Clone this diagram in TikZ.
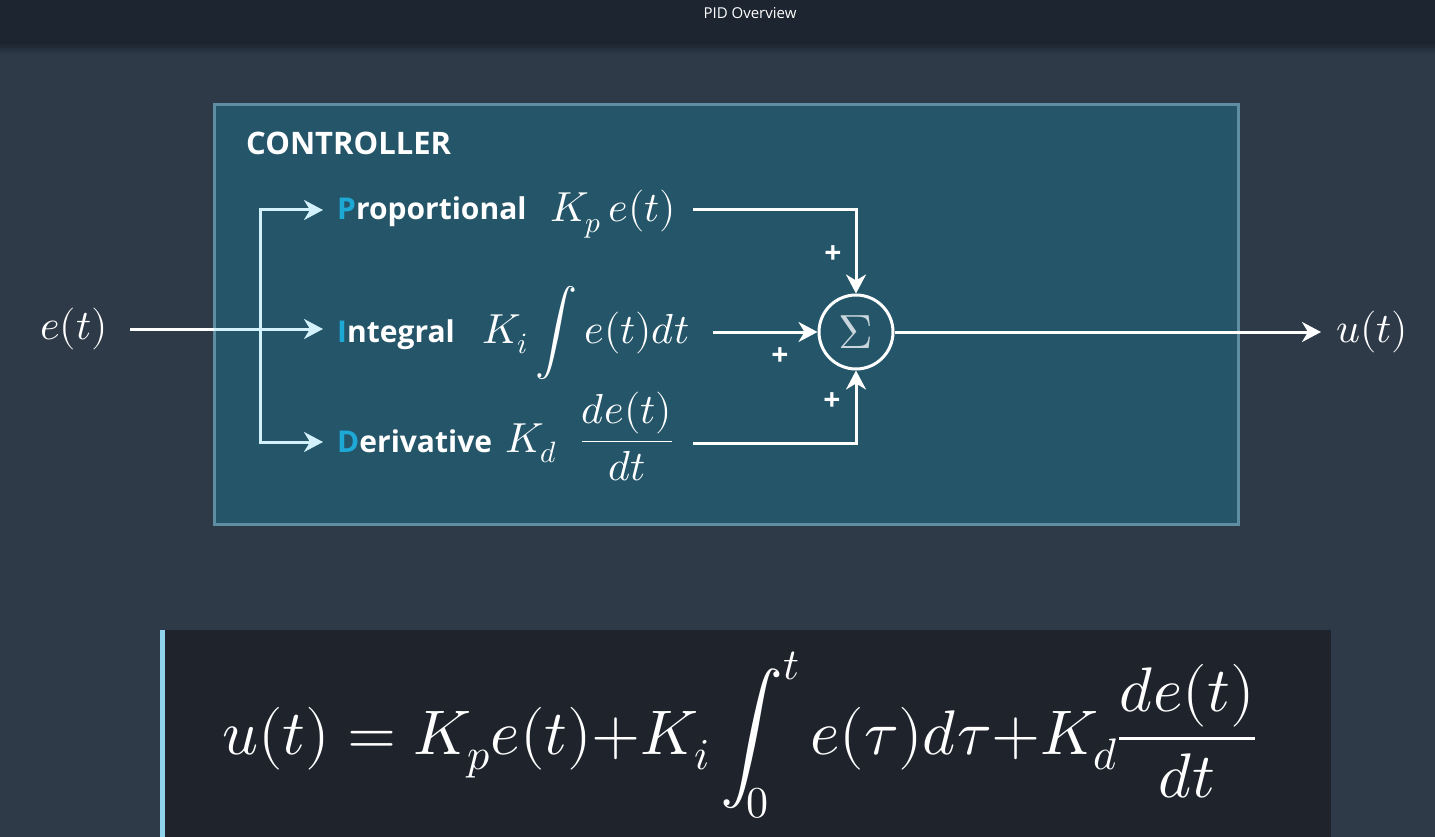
\documentclass[tikz,border=0pt]{standalone}
\usepackage{amsmath}
\usepackage{unicode-math}
\setmathfont{Latin Modern Math}
\newfontfamily\osans{Open Sans}
\usetikzlibrary{arrows.meta}
\definecolor{bgc}{HTML}{2E3A48}
\definecolor{topc}{HTML}{1D2530}
\definecolor{ctrlf}{HTML}{245569}
\definecolor{ctrlb}{HTML}{5F8EA2}
\definecolor{eqf}{HTML}{1E232C}
\definecolor{barc}{HTML}{8ED3EB}
\definecolor{accent}{HTML}{1EA8D6}
\definecolor{branchc}{HTML}{D2F1FB}
\definecolor{sigc}{HTML}{C9D6DC}
\begin{document}
\begin{tikzpicture}[x=1pt,y=-1pt,
  wire/.style={draw=white,line width=3pt},
  branch/.style={draw=branchc,line width=3pt},
  tip/.style={-{Stealth[length=19pt,width=20pt,inset=6pt]}},
  lab/.style={font=\osans\bfseries\fontsize{30}{34}\selectfont, text=white, inner sep=0pt, anchor=base west},
  mth/.style={font=\fontsize{42}{48}\selectfont, text=white, inner sep=0pt, anchor=base west},
  plus/.style={font=\osans\bfseries\fontsize{30}{30}\selectfont, text=white, inner sep=0pt},
]
\useasboundingbox (0,0) rectangle (1435,837);
\fill[bgc] (0,0) rectangle (1435,837);
\fill[topc] (0,0) rectangle (1435,43);
\shade[top color=topc, bottom color=bgc] (0,43) rectangle (1435,54);
\node[font=\osans\fontsize{15}{18}\selectfont, text=white] (title) at (750,13) {PID Overview};

% controller box
\node[draw=ctrlb, fill=ctrlf, line width=3pt, minimum width=1024pt, minimum height=419pt, inner sep=0pt] (ctrl) at (726,314.5) {};
\node[lab, font=\osans\bfseries\fontsize{31}{34}\selectfont] (ctl) at (246,155) {CONTROLLER};

% labels
\node[lab] (pl) at (337,220) {\textcolor{accent}{P}roportional};
\node[lab] (il) at (337,342) {\textcolor{accent}{I}ntegral};
\node[lab] (dl) at (337,452) {\textcolor{accent}{D}erivative};
\node[mth] (pm) at (550,222) {$K_p\,e(t)$};
\node[mth] (im) at (482,343) {$K_i\displaystyle\int e(t)dt$};
\node[mth] (dm) at (505,452) {$K_d\;\;\dfrac{de(t)}{dt}$};

% in / out
\node[font=\fontsize{42}{48}\selectfont, text=white] (ein) at (74,329) {$e(t)$};
\node[font=\fontsize{42}{48}\selectfont, text=white] (uout) at (1372,332) {$u(t)$};

% summing junction
\node[draw=white, line width=3pt, circle, minimum size=74pt, inner sep=0pt, text=sigc, font=\fontsize{48}{48}\selectfont] (sum) at (856,332) {$\Sigma$};
\node[plus] (p1) at (833,255) {+};
\node[plus] (p2) at (780,357) {+};
\node[plus] (p3) at (832,402) {+};

% coordinates
\coordinate (in0) at (130,329);
\coordinate (boxl) at (214,329);
\coordinate (jt) at (260,210);
\coordinate (jb) at (260,442);
\coordinate (ptip) at (323,210);
\coordinate (itip) at (323,329);
\coordinate (dtip) at (323,442);
\coordinate (pout) at (693,210);
\coordinate (iout) at (713,332);
\coordinate (dout) at (693,443);
\coordinate (utip) at (1321,332);

% connectors
\draw[wire] (in0) -- (boxl);
\draw[branch,tip] (boxl) -- (itip);
\draw[branch,tip] (jb) -- (jt) -- (ptip);
\draw[branch,tip] (jt) -- (jb) -- (dtip);
\draw[wire,tip] (pout) -| (sum.north);
\draw[wire,tip] (iout) -- (sum.west);
\draw[wire,tip] (dout) -| (sum.south);
\draw[wire,tip] (sum.east) -- (utip);

% equation box
\fill[eqf] (160,630) rectangle (1331,837);
\fill[barc] (160,630) rectangle (165,837);
\node[font=\fontsize{63}{76}\selectfont, text=white, inner sep=0pt, anchor=base west] (eq) at (222,754)
  {$\displaystyle u(t)=K_pe(t){+}K_i\int_0^t e(\tau)d\tau{+}K_d\frac{de(t)}{dt}$};
\end{tikzpicture}
\end{document}
